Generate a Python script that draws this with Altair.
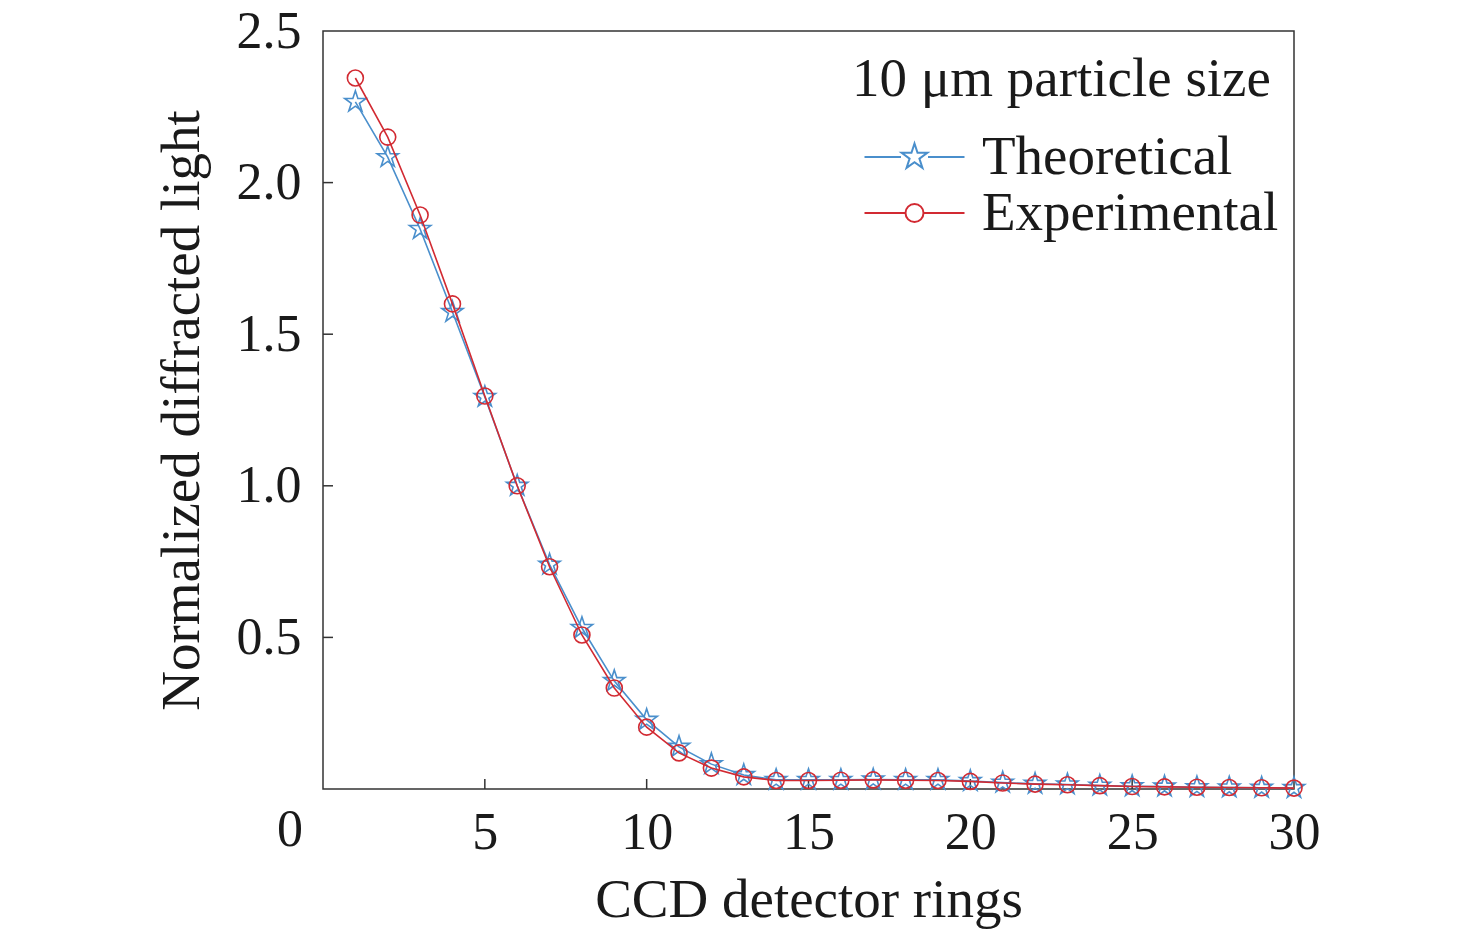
import math
import altair as alt
import pandas as pd

# ---- data ----
rings = list(range(1, 31))
theoretical = [2.266, 2.084, 1.847, 1.573, 1.293, 1.000, 0.740, 0.531, 0.356, 0.228,
               0.139, 0.082, 0.046, 0.030, 0.030, 0.030, 0.031, 0.030, 0.030, 0.026,
               0.021, 0.017, 0.015, 0.011, 0.009, 0.008, 0.006, 0.005, 0.004, 0.003]
experimental = [2.345, 2.150, 1.893, 1.600, 1.296, 1.000, 0.733, 0.508, 0.333, 0.204,
                0.119, 0.069, 0.040, 0.028, 0.028, 0.029, 0.030, 0.029, 0.028, 0.025,
                0.020, 0.016, 0.014, 0.011, 0.008, 0.007, 0.006, 0.005, 0.004, 0.003]
series_names = ["Theoretical", "Experimental"]
x_ticks = [0, 5, 10, 15, 20, 25, 30]
y_ticks = [0, 0.5, 1.0, 1.5, 2.0, 2.5]
x_inner_ticks = [5, 10, 15, 20, 25]
y_inner_ticks = [0.5, 1.0, 1.5, 2.0]
legend_title = "10 μm particle size"

BLUE = "#4a8fcc"
RED = "#d22a32"
INK = "#1a1a1a"
FONT = "Liberation Serif"
W, H = 971, 758


def star_path(r_out, r_in_ratio=0.382, extra=""):
    pts = []
    for i in range(10):
        r = r_out if i % 2 == 0 else r_out * r_in_ratio
        a = -math.pi / 2 + i * math.pi / 5
        pts.append((r * math.cos(a), r * math.sin(a)))
    s = "M" + " L".join(f"{x:.4f},{y:.4f}" for x, y in pts) + " Z"
    return extra + s


def circle_path(r, extra=""):
    return extra + f"M{r},0 A{r},{r} 0 1,1 {-r},0 A{r},{r} 0 1,1 {r},0 Z"


STAR_PT = star_path(1.0)
LEG_STAR = star_path(0.54, extra="M-2,0 L-0.54,0 M0.54,0 L2,0 ")
LEG_CIRC = circle_path(0.36, extra="M-2,0 L-0.36,0 M0.36,0 L2,0 ")

df = pd.DataFrame({
    "ring": rings * 2,
    "value": theoretical + experimental,
    "series": [series_names[0]] * len(rings) + [series_names[1]] * len(rings),
})

xscale = alt.Scale(domain=[0, 30], nice=False, zero=False)
yscale = alt.Scale(domain=[0, 2.5], nice=False, zero=False)

xaxis = alt.Axis(values=x_ticks, labelExpr="datum.value == 0 ? '' : datum.label",
                 ticks=False, domain=False, grid=False, labelPadding=18, labelFlush=False,
                 labelFontSize=52, labelFont=FONT, labelColor=INK,
                 title="CCD detector rings", titleFontSize=55, titleFont=FONT,
                 titleFontWeight="normal", titleColor=INK, titlePadding=15)
yaxis = alt.Axis(values=y_ticks, format=".1f",
                 labelExpr="datum.value == 0 ? '' : datum.label",
                 ticks=False, domain=False, grid=False, labelPadding=22, labelFlush=False,
                 labelFontSize=52, labelFont=FONT, labelColor=INK,
                 title="Normalized diffracted light", titleFontSize=55, titleFont=FONT,
                 titleFontWeight="normal", titleColor=INK, titlePadding=26)

X = alt.X("ring:Q", scale=xscale, axis=xaxis)
Y = alt.Y("value:Q", scale=yscale, axis=yaxis)

base = alt.Chart(df)


def legend(title, y, sym):
    kw = dict(orient="none", legendX=529, legendY=y, symbolType=sym, symbolSize=2500,
              symbolStrokeWidth=2, symbolOffset=35, labelOffset=40,
              labelFontSize=55, labelFont=FONT, labelColor=INK, labelLimit=0,
              padding=0, symbolFillColor="transparent")
    if title:
        kw.update(title=title, titleFontSize=55, titleFont=FONT, titleFontWeight="normal",
                  titleColor=INK, titlePadding=22, titleLimit=0)
    else:
        kw.update(title=None)
    return alt.Legend(**kw)


line_t = base.transform_filter(alt.datum.series == series_names[0]).mark_line(strokeWidth=1.6).encode(
    x=X, y=Y,
    color=alt.Color("series:N", scale=alt.Scale(domain=[series_names[0]], range=[BLUE]),
                    legend=legend(legend_title, 21.5, LEG_STAR)))
pts_t = base.transform_filter(alt.datum.series == series_names[0]).mark_point(
    shape=STAR_PT, size=500, filled=False, color=BLUE, strokeWidth=1.6, opacity=1).encode(x=X, y=Y)

line_e = base.transform_filter(alt.datum.series == series_names[1]).mark_line(strokeWidth=1.6).encode(
    x=X, y=Y,
    color=alt.Color("series:N", scale=alt.Scale(domain=[series_names[1]], range=[RED]),
                    legend=legend("", 154.5, LEG_CIRC)))
pts_e = base.transform_filter(alt.datum.series == series_names[1]).mark_point(
    shape="circle", size=256, filled=False, color=RED, strokeWidth=1.6, opacity=1).encode(x=X, y=Y)

xt = alt.Chart(pd.DataFrame({"ring": x_inner_ticks})).mark_rule(color="#333", strokeWidth=1.5).encode(
    x=alt.X("ring:Q", scale=xscale, axis=xaxis), y=alt.value(H), y2=alt.value(H - 10))
yt = alt.Chart(pd.DataFrame({"value": y_inner_ticks})).mark_rule(color="#333", strokeWidth=1.5).encode(
    y=alt.Y("value:Q", scale=yscale, axis=yaxis), x=alt.value(0), x2=alt.value(10))

origin = alt.Chart(pd.DataFrame({"ring": [0], "value": [0], "t": ["0"]})).mark_text(
    fontSize=52, font=FONT, color=INK, dx=-33, dy=41, align="center", baseline="middle").encode(
    x=alt.X("ring:Q", scale=xscale, axis=xaxis), y=alt.Y("value:Q", scale=yscale, axis=yaxis), text="t:N")

chart = alt.layer(xt, yt, line_t, pts_t, line_e, pts_e, origin).resolve_scale(
    color="independent").properties(
    width=W, height=H,
    background="white",
    autosize=alt.AutoSizeParams(type="none"),
    padding={"left": 315, "top": 23, "right": 174, "bottom": 141},
).configure_view(stroke="#333333", strokeWidth=1.5)

chart.save("out.html", embed_options={"renderer": "svg", "actions": False})
